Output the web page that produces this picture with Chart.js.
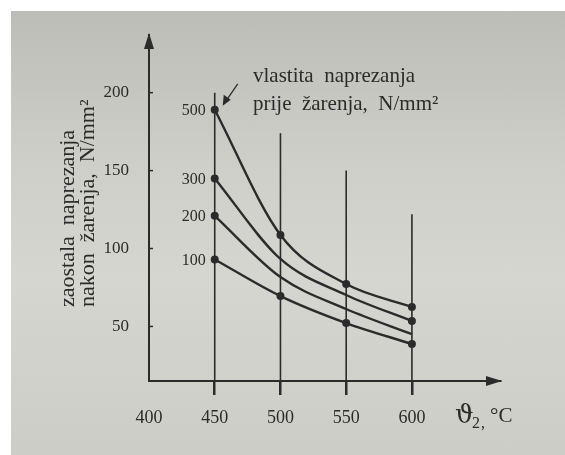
<!DOCTYPE html>
<html>
<head>
<meta charset="utf-8">
<script src="https://cdn.jsdelivr.net/npm/chart.js@4"></script>
<style>
    html, body { margin: 0; padding: 0; background: #ffffff; }
    #paper {
        position: absolute; left: 11px; top: 11px; width: 554px; height: 444px;
        background: linear-gradient(180deg, #bdbdb7 0%, #cfcfca 35%, #d6d6d1 60%, #cdcdc8 100%);
    }
    #wrap { position: absolute; left: 0; top: 0; width: 565px; height: 455px; }
</style>
</head>
<body>
<div id="paper"></div>
<div id="wrap"><canvas id="chart" width="565" height="455"></canvas></div>
<script>
// annealing temperature, °C
const temps = [450, 500, 550, 600];
const xTicks = [400, 450, 500, 550, 600];
const yTicks = [50, 100, 150, 200];

// residual stress before annealing, N/mm2 (curve labels)
const initialStress = ['500', '300', '200', '100'];

// residual stress after annealing, N/mm2
const s500 = [189, 108.7, 77.2, 62.5];
const s300 = [145, 93.3, 70.2, 53.5];
const s200 = [121, 81.7, 61.2, 45.0];
const s100 = [93, 69.5, 52.2, 38.7];

// height the vertical guide lines reach at each temperature
const guideTop = [200, 174, 150, 122];

const INK = '#2b2b2b';
const SERIF = "'Liberation Serif', 'DejaVu Serif', serif";

function pts(vals) {
    return temps.map((t, i) => ({ x: t, y: vals[i] }));
}

function series(label, vals, radii) {
    return {
        label: label,
        data: pts(vals),
        borderColor: INK,
        backgroundColor: INK,
        borderWidth: 2.4,
        pointRadius: radii,
        pointBorderWidth: 0,
        cubicInterpolationMode: 'monotone',
        fill: false
    };
}

const decor = {
    id: 'decor',
    beforeDatasetsDraw(chart) {
        const { ctx, scales: { x, y } } = chart;
        ctx.save();
        ctx.strokeStyle = INK;
        ctx.lineWidth = 1.6;
        temps.forEach((t, i) => {
            const px = x.getPixelForValue(t);
            ctx.beginPath();
            ctx.moveTo(px, y.bottom);
            ctx.lineTo(px, y.getPixelForValue(guideTop[i]));
            ctx.stroke();
        });
        // small inner ticks on the y axis
        ctx.lineWidth = 1.5;
        yTicks.forEach(v => {
            const py = y.getPixelForValue(v);
            ctx.beginPath();
            ctx.moveTo(x.left, py);
            ctx.lineTo(x.left + 4, py);
            ctx.stroke();
        });
        ctx.restore();
    },
    afterDraw(chart) {
        const { ctx, scales: { x, y } } = chart;
        ctx.save();
        ctx.fillStyle = INK;
        ctx.strokeStyle = INK;

        // axis arrows
        ctx.beginPath();
        ctx.moveTo(x.left, y.top - 2);
        ctx.lineTo(x.left - 5, y.top + 14);
        ctx.lineTo(x.left + 5, y.top + 14);
        ctx.closePath();
        ctx.fill();
        ctx.beginPath();
        ctx.moveTo(x.right + 2, y.bottom);
        ctx.lineTo(x.right - 14, y.bottom - 5);
        ctx.lineTo(x.right - 14, y.bottom + 5);
        ctx.closePath();
        ctx.fill();

        // curve labels left of the first point
        ctx.font = '16px ' + SERIF;
        ctx.textAlign = 'right';
        ctx.textBaseline = 'middle';
        chart.data.datasets.forEach((ds, i) => {
            const p = chart.getDatasetMeta(i).data[0];
            ctx.fillText(initialStress[i], p.x - 9, p.y + 1);
        });

        // annotation with arrow to the top curve
        const top = chart.getDatasetMeta(0).data[0];
        ctx.font = '21px ' + SERIF;
        ctx.textAlign = 'left';
        ctx.textBaseline = 'alphabetic';
        ctx.fillText('vlastita  naprezanja', 253, 82);
        ctx.fillText('prije  žarenja,  N/mm²', 253, 110);
        const tx = top.x + 8, ty = top.y - 4;
        ctx.lineWidth = 1.3;
        ctx.beginPath();
        ctx.moveTo(tx + 15, ty - 22);
        ctx.lineTo(tx + 4, ty - 6);
        ctx.stroke();
        ctx.beginPath();
        ctx.moveTo(tx, ty);
        ctx.lineTo(tx + 1, ty - 11);
        ctx.lineTo(tx + 8, ty - 6);
        ctx.closePath();
        ctx.fill();

        // y axis title, two rotated lines
        ctx.save();
        ctx.font = '22px ' + SERIF;
        ctx.textBaseline = 'middle';
        ctx.textAlign = 'left';
        ctx.translate(68, 307);
        ctx.rotate(-Math.PI / 2);
        ctx.fillText('zaostala  naprezanja', 0, 0);
        ctx.fillText('nakon  žarenja,  N/mm²', 0, 20);
        ctx.restore();

        // x axis title
        ctx.font = "26px 'DejaVu Serif', serif";
        ctx.textBaseline = 'alphabetic';
        ctx.fillText('ϑ', 455, 423);
        ctx.font = '16px ' + SERIF;
        ctx.fillText('2', 472, 428);
        ctx.fillText(',', 481, 428);
        ctx.font = '21px ' + SERIF;
        ctx.fillText('°C', 490, 422);
        ctx.restore();
    }
};

new Chart(document.getElementById('chart'), {
    type: 'line',
    data: {
        datasets: [
            series('500', s500, [4, 4, 4, 4]),
            series('300', s300, [4, 0, 0, 4]),
            series('200', s200, [4, 0, 0, 0]),
            series('100', s100, [4, 4, 4, 4])
        ]
    },
    options: {
        responsive: false,
        animation: false,
        layout: { padding: { top: 35, right: 65, left: 0, bottom: 0 } },
        plugins: { legend: { display: false }, tooltip: { enabled: false } },
        scales: {
            x: {
                type: 'linear',
                min: 400,
                max: 667,
                afterBuildTicks: s => { s.ticks = xTicks.map(v => ({ value: v })); },
                afterFit: s => { s.height = 74; },
                border: { color: INK, width: 2 },
                grid: {
                    drawOnChartArea: false,
                    tickLength: 14,
                    lineWidth: 2.5,
                    tickColor: c => (c.tick && c.tick.value === 400) ? 'rgba(0,0,0,0)' : INK
                },
                ticks: {
                    color: INK,
                    padding: 12,
                    font: { family: SERIF, size: 18 }
                }
            },
            y: {
                min: 15,
                max: 237,
                afterBuildTicks: s => { s.ticks = yTicks.map(v => ({ value: v })); },
                afterFit: s => { s.width = 149; },
                border: { color: INK, width: 2 },
                grid: { display: false },
                ticks: {
                    color: INK,
                    padding: 12,
                    font: { family: SERIF, size: 17 }
                }
            }
        }
    },
    plugins: [decor]
});
</script>
</body>
</html>
